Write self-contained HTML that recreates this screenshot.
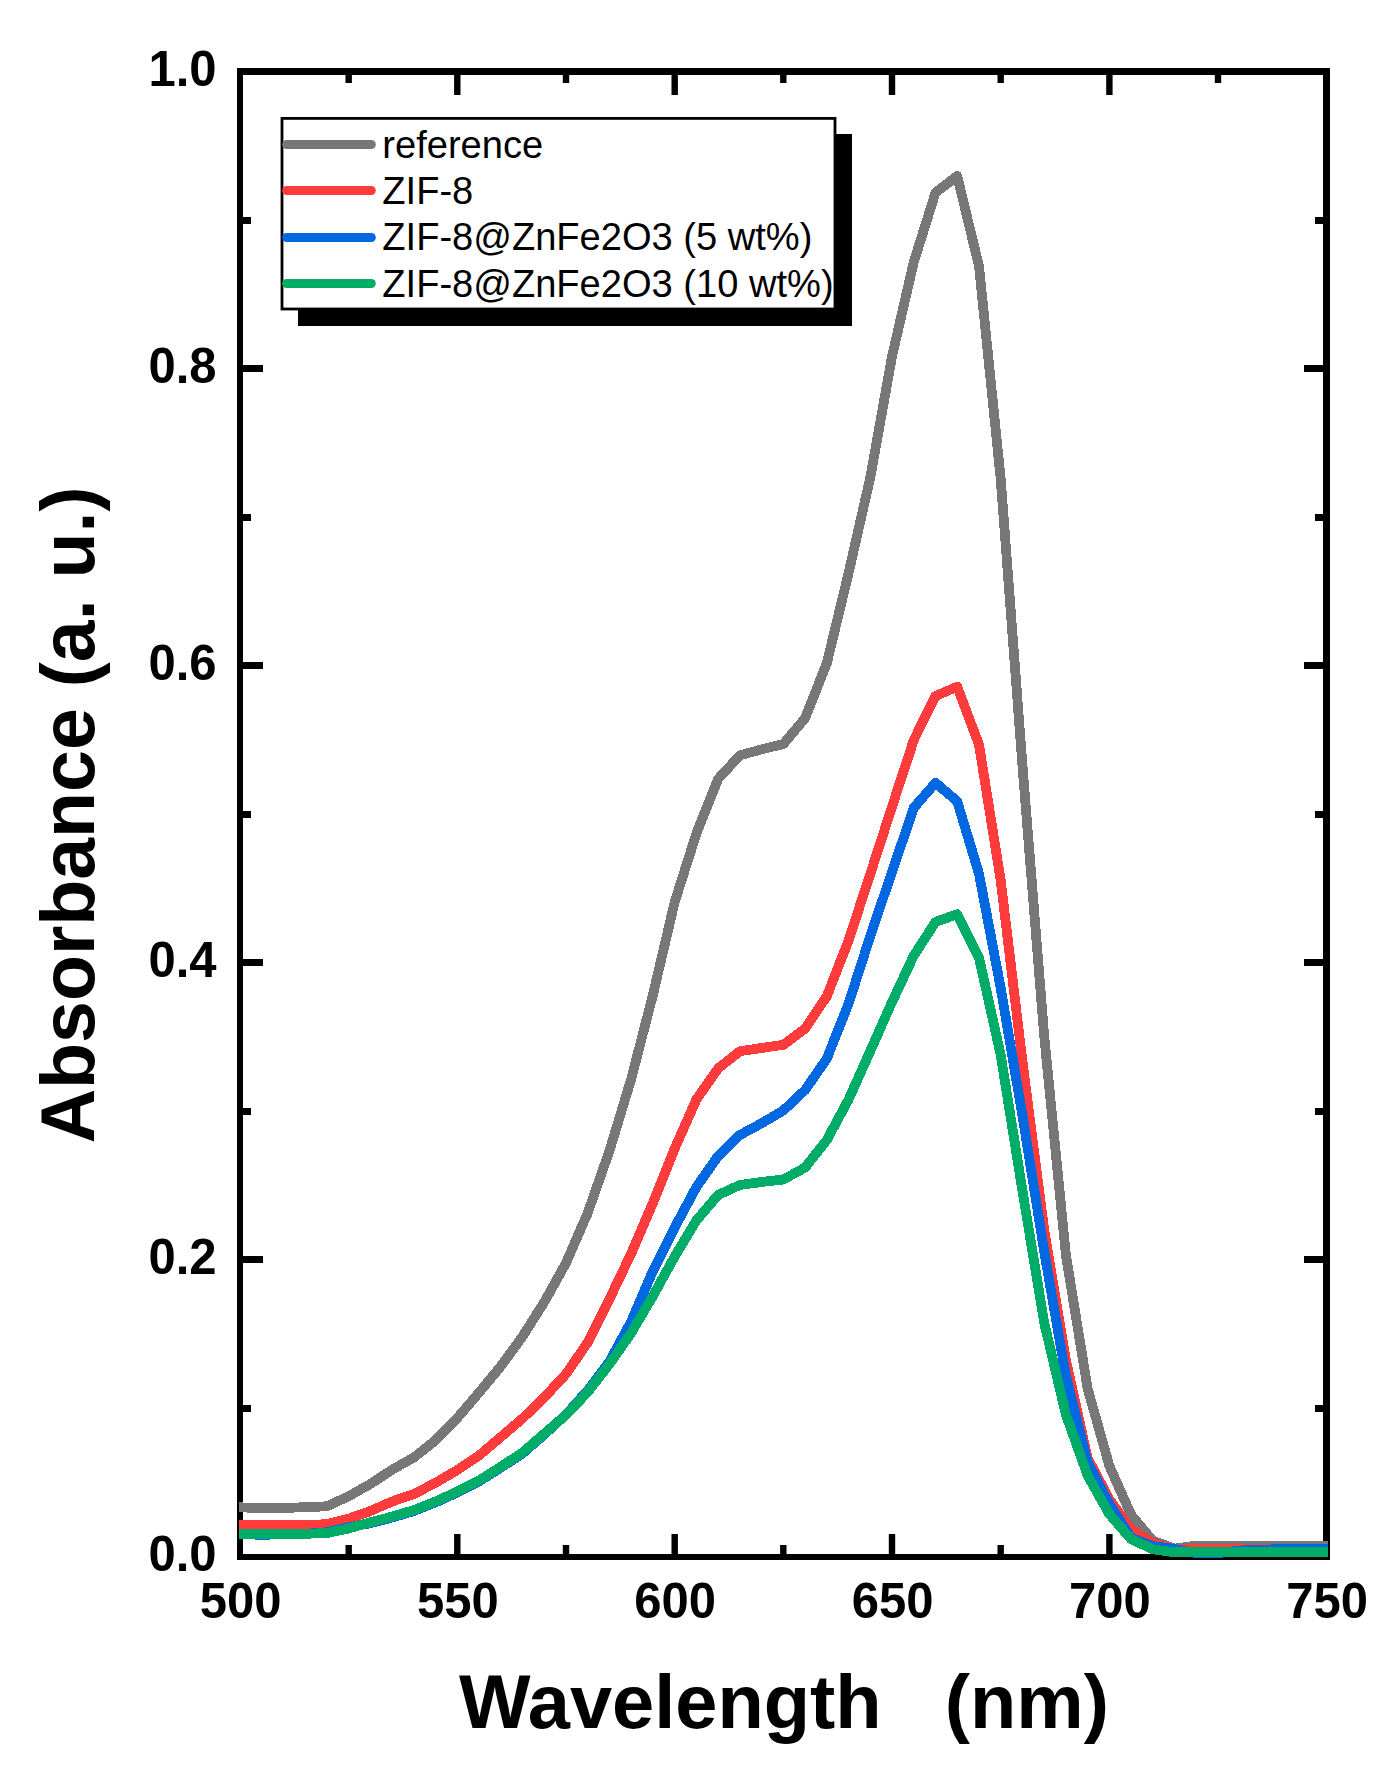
<!DOCTYPE html>
<html lang="en"><head><meta charset="utf-8"><title>Absorbance vs Wavelength</title>
<style>
html,body{margin:0;padding:0;background:#fff;}
body{width:1394px;height:1779px;overflow:hidden;}
svg{display:block;}
text{font-family:"Liberation Sans",sans-serif;fill:#000;}
.b{font-weight:bold;}
.tick{font-size:49px;font-weight:bold;}
.title{font-size:75.8px;font-weight:bold;}
.ytitle{font-size:75.3px;font-weight:bold;}
.leg{font-size:38.1px;}
</style></head><body>
<svg width="1394" height="1779" viewBox="0 0 1394 1779">
<rect x="0" y="0" width="1394" height="1779" fill="#fff"/>
<defs><clipPath id="plotclip"><rect x="239" y="60" width="1089" height="1498"/></clipPath></defs>
<g fill="#000" shape-rendering="crispEdges">
<rect x="237" y="68" width="6" height="1492"/>
<rect x="1323" y="68" width="7" height="1492"/>
<rect x="237" y="68" width="1093" height="7"/>
<rect x="237" y="1554" width="1093" height="6"/>
<rect x="345.5" y="1545" width="6.4" height="10" shape-rendering="auto"/>
<rect x="345.5" y="74" width="6.4" height="9" shape-rendering="auto"/>
<rect x="454.1" y="1534" width="6.4" height="21" shape-rendering="auto"/>
<rect x="454.1" y="74" width="6.4" height="21" shape-rendering="auto"/>
<rect x="562.8" y="1545" width="6.4" height="10" shape-rendering="auto"/>
<rect x="562.8" y="74" width="6.4" height="9" shape-rendering="auto"/>
<rect x="671.5" y="1534" width="6.4" height="21" shape-rendering="auto"/>
<rect x="671.5" y="74" width="6.4" height="21" shape-rendering="auto"/>
<rect x="780.1" y="1545" width="6.4" height="10" shape-rendering="auto"/>
<rect x="780.1" y="74" width="6.4" height="9" shape-rendering="auto"/>
<rect x="888.8" y="1534" width="6.4" height="21" shape-rendering="auto"/>
<rect x="888.8" y="74" width="6.4" height="21" shape-rendering="auto"/>
<rect x="997.5" y="1545" width="6.4" height="10" shape-rendering="auto"/>
<rect x="997.5" y="74" width="6.4" height="9" shape-rendering="auto"/>
<rect x="1106.2" y="1534" width="6.4" height="21" shape-rendering="auto"/>
<rect x="1106.2" y="74" width="6.4" height="21" shape-rendering="auto"/>
<rect x="1214.8" y="1545" width="6.4" height="10" shape-rendering="auto"/>
<rect x="1214.8" y="74" width="6.4" height="9" shape-rendering="auto"/>
<rect x="242" y="1405" width="9" height="7"/>
<rect x="1315" y="1405" width="9" height="7"/>
<rect x="242" y="1256" width="21" height="7"/>
<rect x="1304" y="1256" width="20" height="7"/>
<rect x="242" y="1108" width="9" height="7"/>
<rect x="1315" y="1108" width="9" height="7"/>
<rect x="242" y="959" width="21" height="7"/>
<rect x="1304" y="959" width="20" height="7"/>
<rect x="242" y="811" width="9" height="7"/>
<rect x="1315" y="811" width="9" height="7"/>
<rect x="242" y="662" width="21" height="7"/>
<rect x="1304" y="662" width="20" height="7"/>
<rect x="242" y="514" width="9" height="7"/>
<rect x="1315" y="514" width="9" height="7"/>
<rect x="242" y="365" width="21" height="7"/>
<rect x="1304" y="365" width="20" height="7"/>
<rect x="242" y="217" width="9" height="7"/>
<rect x="1315" y="217" width="9" height="7"/>
</g>
<g clip-path="url(#plotclip)" fill="none" stroke-width="9.8" stroke-linejoin="round" stroke-linecap="butt" shape-rendering="crispEdges">
<polyline stroke="#777777" points="239.0,1507.3 240.0,1507.3 261.7,1508.2 283.5,1508.0 305.2,1507.2 326.9,1506.3 348.7,1496.2 370.4,1484.0 392.1,1469.7 413.9,1457.5 435.6,1440.3 457.3,1418.0 479.1,1392.5 500.8,1366.3 522.5,1336.5 544.3,1302.0 566.0,1263.0 587.7,1213.0 609.5,1150.7 631.2,1079.0 652.9,995.0 674.7,902.0 696.4,833.5 718.1,779.0 739.9,755.3 761.6,749.4 783.4,744.0 805.1,718.2 826.8,663.3 848.6,573.0 870.3,477.5 892.0,356.6 913.8,261.9 935.5,192.7 957.2,176.0 979.0,266.2 1000.7,479.0 1022.4,765.0 1044.2,1036.0 1065.9,1255.0 1087.6,1388.5 1109.4,1466.0 1131.1,1514.8 1152.8,1540.7 1174.6,1548.6 1196.3,1545.6 1218.0,1545.5 1239.8,1545.5 1261.5,1545.5 1283.2,1545.5 1305.0,1545.5 1326.7,1545.5 1329.0,1545.5"/>
<polyline stroke="#FF3B3B" points="239.0,1525.2 240.0,1525.2 261.7,1525.2 283.5,1525.2 305.2,1525.0 326.9,1524.2 348.7,1518.7 370.4,1511.0 392.1,1501.5 413.9,1494.0 435.6,1482.8 457.3,1470.0 479.1,1455.5 500.8,1437.0 522.5,1418.5 544.3,1397.3 566.0,1374.0 587.7,1342.5 609.5,1299.0 631.2,1253.5 652.9,1203.0 674.7,1148.5 696.4,1099.5 718.1,1068.5 739.9,1051.2 761.6,1048.0 783.4,1044.8 805.1,1028.6 826.8,996.3 848.6,940.4 870.3,874.0 892.0,806.8 913.8,740.0 935.5,696.0 957.2,686.7 979.0,744.7 1000.7,880.3 1022.4,1061.0 1044.2,1230.0 1065.9,1360.0 1087.6,1458.0 1109.4,1499.3 1131.1,1529.5 1152.8,1543.0 1174.6,1549.5 1196.3,1549.2 1218.0,1549.2 1239.8,1549.2 1261.5,1549.2 1283.2,1549.2 1305.0,1549.2 1326.7,1549.2 1329.0,1549.2"/>
<polyline stroke="#0068E0" points="239.0,1534.2 240.0,1534.2 261.7,1534.8 283.5,1534.3 305.2,1533.9 326.9,1532.2 348.7,1527.3 370.4,1523.2 392.1,1517.5 413.9,1511.0 435.6,1502.4 457.3,1492.4 479.1,1481.4 500.8,1467.7 522.5,1453.4 544.3,1434.5 566.0,1414.5 587.7,1390.5 609.5,1361.5 631.2,1321.5 652.9,1271.0 674.7,1227.5 696.4,1187.0 718.1,1156.0 739.9,1135.0 761.6,1123.3 783.4,1110.4 805.1,1090.0 826.8,1058.7 848.6,1003.5 870.3,936.0 892.0,872.0 913.8,807.8 935.5,782.8 957.2,801.3 979.0,873.8 1000.7,988.0 1022.4,1115.2 1044.2,1251.5 1065.9,1376.0 1087.6,1462.0 1109.4,1503.9 1131.1,1537.9 1152.8,1546.2 1174.6,1549.0 1196.3,1553.2 1218.0,1553.2 1239.8,1550.5 1261.5,1549.8 1283.2,1548.9 1305.0,1548.7 1326.7,1548.7 1329.0,1548.7"/>
<polyline stroke="#00AD68" points="239.0,1533.9 240.0,1533.9 261.7,1534.0 283.5,1534.0 305.2,1533.8 326.9,1533.1 348.7,1528.5 370.4,1522.3 392.1,1516.6 413.9,1510.1 435.6,1501.5 457.3,1491.5 479.1,1480.5 500.8,1466.8 522.5,1452.5 544.3,1433.6 566.0,1415.0 587.7,1392.0 609.5,1364.0 631.2,1333.0 652.9,1296.0 674.7,1256.5 696.4,1220.4 718.1,1195.0 739.9,1185.0 761.6,1182.0 783.4,1179.5 805.1,1167.5 826.8,1140.0 848.6,1099.5 870.3,1051.0 892.0,1002.0 913.8,955.6 935.5,922.0 957.2,914.2 979.0,957.7 1000.7,1055.0 1022.4,1190.5 1044.2,1322.8 1065.9,1414.7 1087.6,1475.5 1109.4,1514.2 1131.1,1539.3 1152.8,1549.3 1174.6,1552.4 1196.3,1552.0 1218.0,1552.0 1239.8,1552.0 1261.5,1552.0 1283.2,1552.0 1305.0,1552.0 1326.7,1552.0 1329.0,1552.0"/>
</g>
<g class="tick" text-anchor="middle">
<text transform="translate(240.5,1618) scale(1,1.03)">500</text>
<text transform="translate(457.8,1618) scale(1,1.03)">550</text>
<text transform="translate(675.2,1618) scale(1,1.03)">600</text>
<text transform="translate(892.5,1618) scale(1,1.03)">650</text>
<text transform="translate(1109.9,1618) scale(1,1.03)">700</text>
<text transform="translate(1327.2,1618) scale(1,1.03)">750</text>
</g>
<g class="tick" text-anchor="end">
<text transform="translate(216.5,1571.0) scale(1,1.03)">0.0</text>
<text transform="translate(216.5,1274.0) scale(1,1.03)">0.2</text>
<text transform="translate(216.5,977.0) scale(1,1.03)">0.4</text>
<text transform="translate(216.5,680.0) scale(1,1.03)">0.6</text>
<text transform="translate(216.5,383.0) scale(1,1.03)">0.8</text>
<text transform="translate(216.5,86.0) scale(1,1.03)">1.0</text>
</g>
<text class="title" x="459" y="1727.5" xml:space="preserve">Wavelength   (nm)</text>
<text class="ytitle" transform="translate(93.5,1143.3) rotate(-90)" x="0" y="0">Absorbance (a. u.)</text>
<g>
<rect x="298" y="134" width="554" height="192" fill="#000"/>
<rect x="282" y="118.4" width="553" height="190.6" fill="#fff" stroke="#000" stroke-width="2.8"/>
<line x1="286.6" y1="144.5" x2="371.3" y2="144.5" stroke="#777777" stroke-width="9" stroke-linecap="round"/>
<line x1="286.6" y1="190.5" x2="371.3" y2="190.5" stroke="#FF3B3B" stroke-width="9" stroke-linecap="round"/>
<line x1="286.6" y1="237.5" x2="371.3" y2="237.5" stroke="#0068E0" stroke-width="9" stroke-linecap="round"/>
<line x1="286.6" y1="283.5" x2="371.3" y2="283.5" stroke="#00AD68" stroke-width="9" stroke-linecap="round"/>
<text class="leg" x="382.3" y="157.5">reference</text>
<text class="leg" x="382.3" y="204.0">ZIF-8</text>
<text class="leg" x="382.3" y="250.0">ZIF-8@ZnFe2O3 (5 wt%)</text>
<text class="leg" x="382.3" y="296.5">ZIF-8@ZnFe2O3 (10 wt%)</text>
</g>
</svg>
</body></html>
